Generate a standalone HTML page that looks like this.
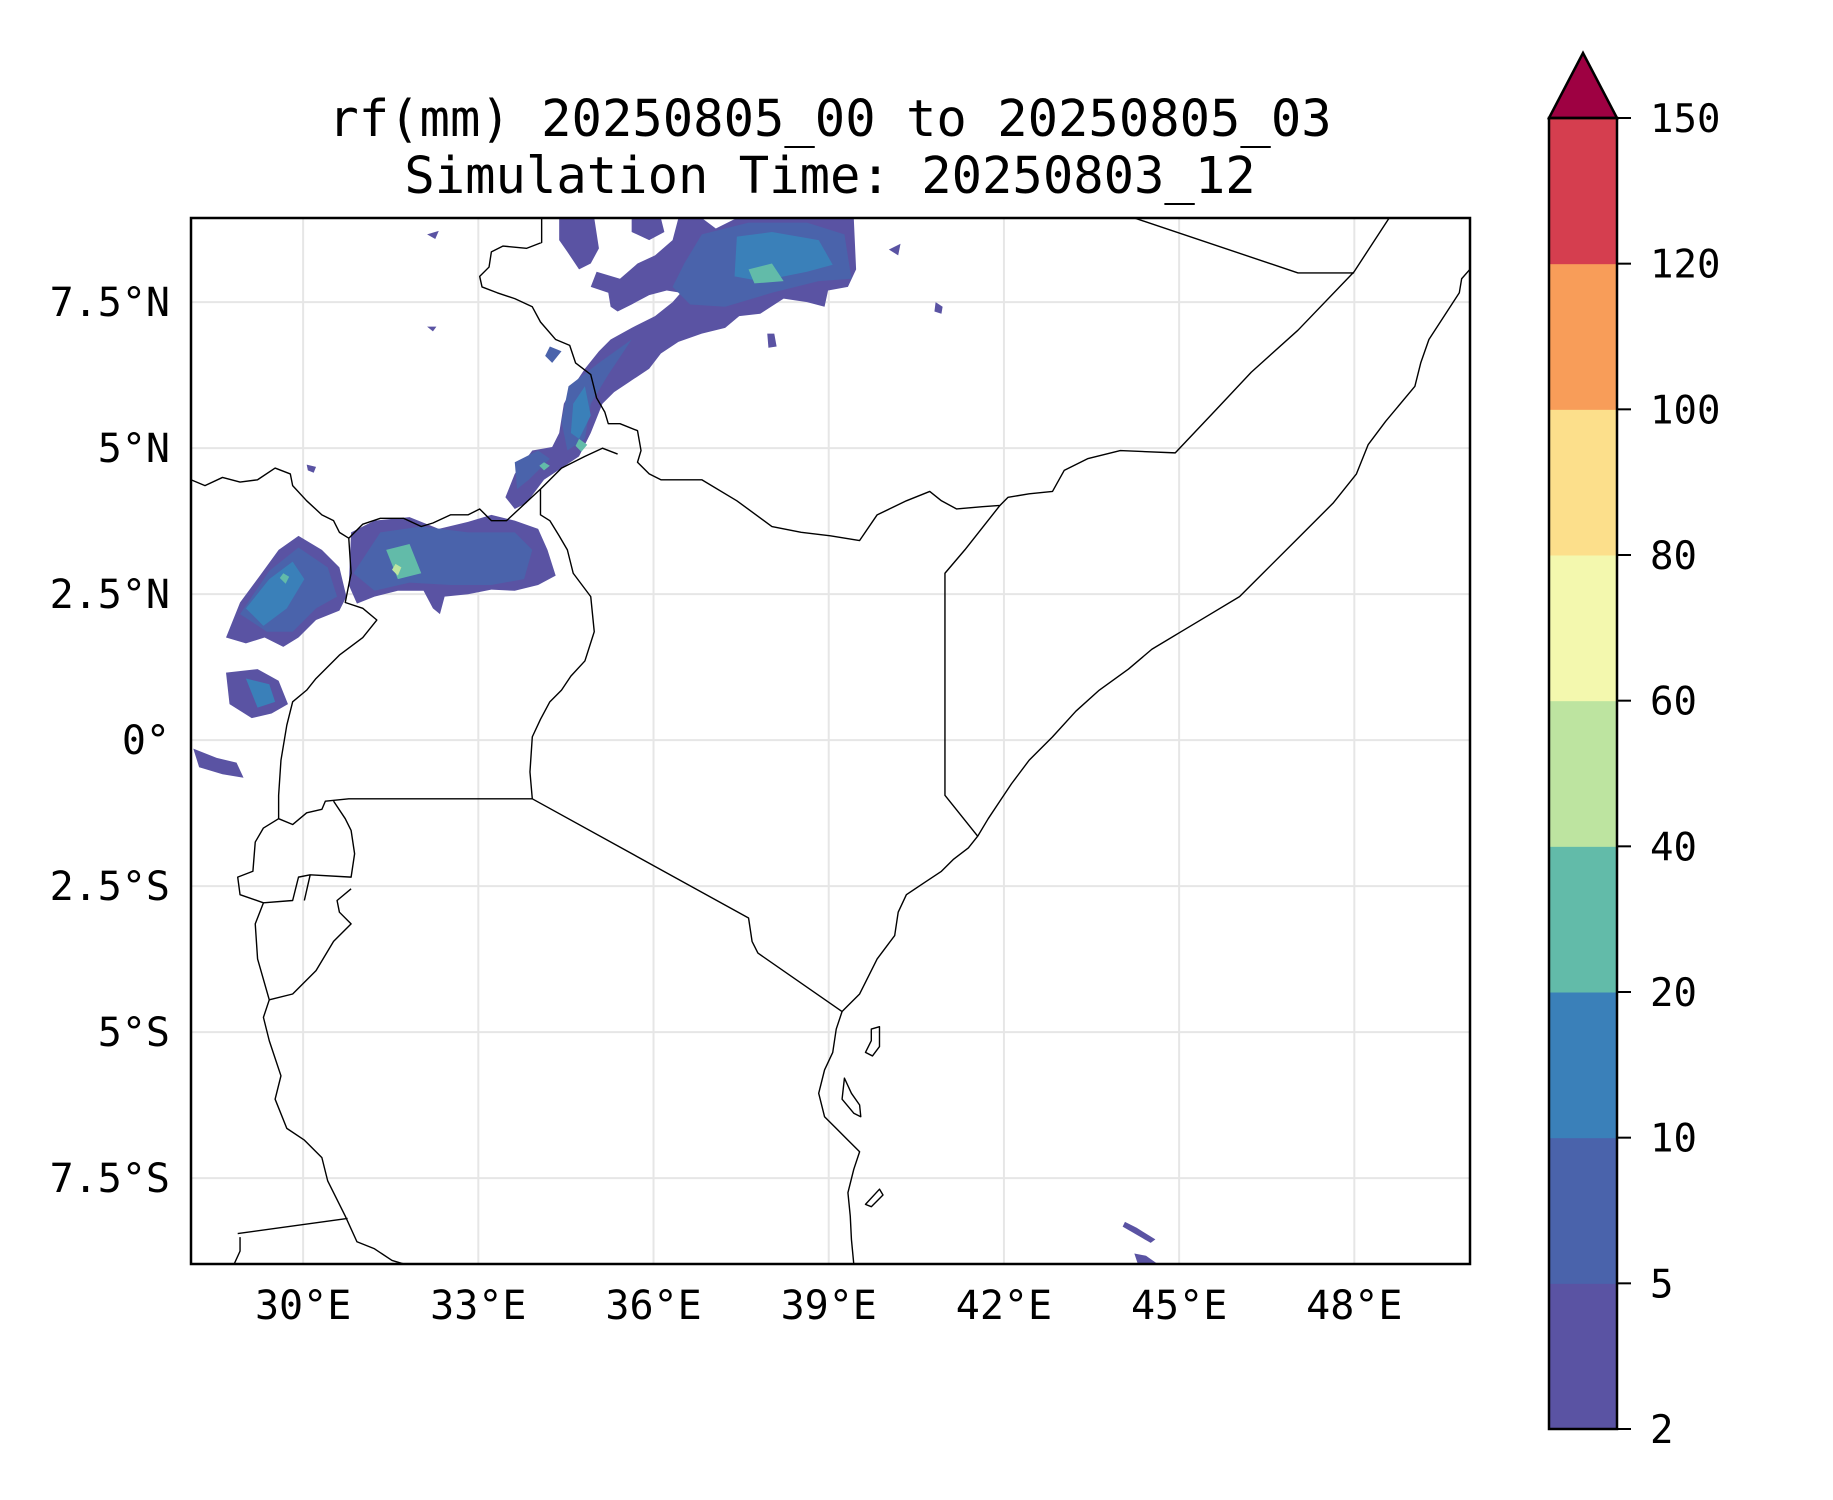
<!DOCTYPE html>
<html><head><meta charset="utf-8"><style>
html,body{margin:0;padding:0;background:#fff;}
svg{display:block;font-family:"DejaVu Sans Mono","Liberation Mono",monospace;}
</style></head>
<body>
<svg id="fig" width="1833" height="1500" viewBox="0 0 1833 1500">
<rect x="0" y="0" width="1833" height="1500" fill="#fff"/>
<text x="830" y="136" font-size="50.5" text-anchor="middle">rf(mm) 20250805_00 to 20250805_03</text>
<text x="830" y="193" font-size="50.5" text-anchor="middle">Simulation Time: 20250803_12</text>
<defs><clipPath id="mapclip"><rect x="191" y="218" width="1279" height="1046"/></clipPath></defs>
<g id="grid"></g>
<g clip-path="url(#mapclip)">
<g id="rain" transform="matrix(1.169,0,0,1.1687,0.4,0.6)"></g>
<g transform="matrix(1.169,0,0,1.1687,0.4,0.6)" fill="none" stroke="#000" stroke-width="1.2" stroke-linejoin="round">
<path d="M463,186 L463,207 450,212 430,210 420,215 418,228 410,236 412,245 425,250 440,255 455,262 462,275 475,290 487,295 492,310 505,320 510,340 517,352 520,362 530,362 545,368 548,385 545,395 555,405 565,410 600,410 630,428 660,450 685,455 710,458 735,462 750,440 775,428 795,420 805,428 818,435 840,433 855,432 862,425 880,422 900,420 910,402 930,392 958,385 1005,387 1040,350 1070,318 1110,282 1158,232 1188,186"/>
<path d="M970,186 L1110,233 1158,233"/>
<path d="M855,432 L825,470 808,490 808,680 836,715"/>
<path d="M163,410 L175,415 190,408 205,412 220,410 235,400 248,405 250,415 262,428 275,440 285,445 290,455 298,460 310,448 325,443 345,443 360,450 370,447 385,440 400,440 410,435 420,445 433,445 462,418 480,400 500,390 515,383 528,388"/>
<path d="M462,418 L462,440 470,445 478,458 485,470 490,490 505,510 508,540 500,565 488,578 480,590 470,600 462,615 455,630 453,660 455,683 640,785 643,805 648,815 720,865"/>
<path d="M298,460 L300,490 295,515 310,520 322,530 310,545 290,560 270,580 262,590 250,600 245,620 240,650 238,680 238,700 250,705 262,695 275,692 278,685 298,683 455,683"/>
<path d="M238,700 L225,708 218,720 216,745 203,750 205,765 225,772 250,770 255,750 265,748 300,750 303,730 300,710 295,700 285,685 M265,748 L260,770 M225,772 L218,790 220,820 230,855 250,850 270,830 285,805 300,790 290,780 288,770 300,760"/>
<path d="M230,855 L225,870 230,890 240,920 235,940 245,965 260,975 275,990 280,1010 295,1040 305,1062 320,1068 335,1078 345,1081 M203,1055 L297,1042 M200,1081 L205,1070 205,1058"/>
<path d="M730,1081 L728,1060 727,1040 725,1020 730,1000 735,985 725,975 715,965 705,955 700,935 705,915 712,900 715,880 720,865 725,860 735,850 740,840 750,820 765,800 768,780 775,765 790,755 805,745 815,735 828,725 836,715 845,700 855,685 865,670 880,650 900,630 920,608 940,590 965,572 985,555 1010,540 1035,525 1060,510 1080,490 1110,460 1140,430 1160,405 1170,380 1185,360 1210,330 1215,310 1222,290 1235,270 1248,250 1250,238 1257,230"/>
<path d="M745,880 L752,878 752,895 746,903 740,900 745,890Z"/>
<path d="M722,922 L728,935 735,945 736,955 730,952 720,940Z"/>
<path d="M752,1017 L755,1022 745,1032 740,1030Z"/>
</g>
</g>
<rect x="191" y="218" width="1279" height="1046" fill="none" stroke="#000" stroke-width="2.5"/>
<g id="labels" font-size="40"></g>
<g id="cbar"></g>
<script>
const levels = [2, 5, 10, 20, 40, 60, 80, 100, 120, 150];
const levelColors = ["#5a53a3", "#4a63ab", "#3a80b9", "#62bba9", "#bde4a0", "#f3f8ae", "#fcdf8b", "#f89d59", "#d53e4f"];
const extendColor = "#9e0142";
const lonTicks = [30, 33, 36, 39, 42, 45, 48];
const lonLabels = ["30°E", "33°E", "36°E", "39°E", "42°E", "45°E", "48°E"];
const latTicks = [7.5, 5, 2.5, 0, -2.5, -5, -7.5];
const latLabels = ["7.5°N", "5°N", "2.5°N", "0°", "2.5°S", "5°S", "7.5°S"];
// rain cells: value in mm and outline (displayed-map coords)
const rainValues = [3, 3, 3, 3, 3, 3, 3, 3, 3, 3, 3, 3, 3, 7, 7, 7, 7, 7, 7, 15, 15, 15, 15, 30, 30, 30, 30, 30, 45, 3, 3];
const rainShapes = [
"580,186 600,186 612,195 630,186 730,186 732,230 725,245 708,248 705,262 690,258 670,255 650,268 632,270 620,280 600,285 580,292 565,302 555,315 540,325 525,335 515,345 505,370 495,390 480,400 465,410 450,430 440,435 432,425 440,405 455,385 472,382 478,370 482,345 490,330 500,315 512,300 522,290 540,280 560,270 575,258 582,250 570,248 555,252 540,260 528,266 522,262 520,250 505,245 510,232 530,238 545,225 560,218 575,205",
"300,455 320,445 350,442 375,452 400,446 420,440 440,445 460,452 468,470 475,492 460,500 440,505 420,504 400,508 380,510 376,525 370,520 362,505 340,505 320,510 305,516 298,500",
"193,545 205,515 222,492 238,470 255,458 275,470 290,485 296,510 290,522 270,530 255,545 242,553 226,545 210,550",
"193,575 220,572 238,582 246,602 232,610 215,614 196,602",
"165,640 185,648 202,652 208,665 190,662 170,656",
"962,1045 972,1050 988,1060 984,1063 960,1049",
"970,1072 980,1074 990,1081 973,1081",
"365,200 375,197 372,204",
"365,279 373,279 370,283",
"800,258 806,262 805,268 799,266",
"656,285 662,285 664,296 657,297",
"262,397 270,399 268,404 263,402",
"760,213 770,208 768,218",
"470,296 480,300 472,310 466,304",
"600,200 640,190 690,190 722,200 728,238 700,240 660,250 620,262 590,260 575,245 585,225",
"486,330 512,310 540,290 520,320 505,345 500,375 485,385 480,360",
"325,455 360,450 400,455 440,455 455,470 448,495 420,500 385,500 350,498 320,505 302,490",
"205,525 230,488 255,468 280,485 288,510 270,520 250,540 228,540",
"440,395 460,385 470,392 452,410 442,418",
"210,580 230,585 235,600 220,605",
"630,202 660,198 700,205 712,226 690,232 650,240 628,236",
"490,345 500,330 505,355 495,375 488,370",
"210,520 230,495 250,480 260,495 245,520 225,535",
"330,470 350,465 360,490 340,495",
"640,230 660,225 670,240 645,242",
"495,375 502,380 497,386 492,381",
"242,490 247,493 244,499 239,494",
"465,395 470,398 465,402 461,398",
"338,482 343,485 340,492 335,487",
"478,186 508,186 512,212 505,225 495,230 485,215 478,205",
"540,186 565,186 568,198 555,205 540,198"
];
const SVGNS = "http://www.w3.org/2000/svg";
function colorFor(v){
  for (let i = 0; i < levels.length - 1; i++) { if (v >= levels[i] && v < levels[i+1]) return levelColors[i]; }
  return v >= levels[levels.length-1] ? extendColor : null;
}
const X0 = 191, Y0 = 218, W = 1279, H = 1046, lonMin = 28.08, latMax = 8.94, ppd = 58.4;
function xOfLon(l){ return X0 + (l - lonMin) * ppd; }
function yOfLat(l){ return Y0 + (latMax - l) * ppd; }
const grid = document.getElementById('grid');
const labels = document.getElementById('labels');
lonTicks.forEach((lo, i) => {
  const ln = document.createElementNS(SVGNS, 'line');
  
  
  const x = xOfLon(lo);
  ln.setAttribute('x1', x); ln.setAttribute('x2', x); ln.setAttribute('y1', Y0); ln.setAttribute('y2', Y0 + H);
  ln.setAttribute('stroke', '#e6e6e6'); ln.setAttribute('stroke-width', '2');
  grid.appendChild(ln);
  const t = document.createElementNS(SVGNS, 'text');
  
  
  t.setAttribute('x', x); t.setAttribute('y', 1319); t.setAttribute('text-anchor', 'middle');
  t.textContent = lonLabels[i];
  labels.appendChild(t);
});
latTicks.forEach((la, i) => {
  const ln = document.createElementNS(SVGNS, 'line');
  
  
  const y = yOfLat(la);
  ln.setAttribute('x1', X0); ln.setAttribute('x2', X0 + W); ln.setAttribute('y1', y); ln.setAttribute('y2', y);
  ln.setAttribute('stroke', '#e6e6e6'); ln.setAttribute('stroke-width', '2');
  grid.appendChild(ln);
  const t = document.createElementNS(SVGNS, 'text');
  
  
  t.setAttribute('x', 170); t.setAttribute('y', y + 14); t.setAttribute('text-anchor', 'end');
  t.textContent = latLabels[i];
  labels.appendChild(t);
});
const rain = document.getElementById('rain');
rainShapes.forEach((pts, i) => {
  const c = colorFor(rainValues[i]);
  if (!c) return;
  const p = document.createElementNS(SVGNS, 'polygon');
  
  
  p.setAttribute('points', pts);
  p.setAttribute('fill', c);
  rain.appendChild(p);
});
const CB_X = 1549, CB_W = 68, CB_TOP = 118, CB_BOT = 1429, ARROW_TOP = 53;
const nBins = levels.length - 1;
function yOfLevelIndex(i){ return CB_BOT - i * (CB_BOT - CB_TOP) / nBins; }
const cbar = document.getElementById('cbar');
levelColors.forEach((c, i) => {
  const r = document.createElementNS(SVGNS, 'rect');
  
  
  const y1 = yOfLevelIndex(i + 1), y0 = yOfLevelIndex(i);
  r.setAttribute('x', CB_X); r.setAttribute('y', y1); r.setAttribute('width', CB_W); r.setAttribute('height', y0 - y1 + 0.5);
  r.setAttribute('fill', c);
  cbar.appendChild(r);
});
const tri = document.createElementNS(SVGNS, 'polygon');


tri.setAttribute('points', `${CB_X},${CB_TOP} ${CB_X + CB_W/2},${ARROW_TOP} ${CB_X + CB_W},${CB_TOP}`);
tri.setAttribute('fill', extendColor);
tri.setAttribute('stroke', '#000'); tri.setAttribute('stroke-width', '2.5'); tri.setAttribute('stroke-linejoin', 'miter');
cbar.appendChild(tri);
const outline = document.createElementNS(SVGNS, 'rect');


outline.setAttribute('x', CB_X); outline.setAttribute('y', CB_TOP); outline.setAttribute('width', CB_W); outline.setAttribute('height', CB_BOT - CB_TOP);
outline.setAttribute('fill', 'none'); outline.setAttribute('stroke', '#000'); outline.setAttribute('stroke-width', '2.5');
cbar.appendChild(outline);
levels.forEach((lv, i) => {
  const y = yOfLevelIndex(i);
  const tk = document.createElementNS(SVGNS, 'line');
  
  
  tk.setAttribute('x1', CB_X + CB_W); tk.setAttribute('x2', CB_X + CB_W + 14); tk.setAttribute('y1', y); tk.setAttribute('y2', y);
  tk.setAttribute('stroke', '#000'); tk.setAttribute('stroke-width', '2');
  cbar.appendChild(tk);
  const t = document.createElementNS(SVGNS, 'text');
  
  
  t.setAttribute('x', 1650); t.setAttribute('y', y + 14); t.setAttribute('font-size', '39');
  t.textContent = String(lv);
  cbar.appendChild(t);
});
</script>
</svg>
</body></html>
